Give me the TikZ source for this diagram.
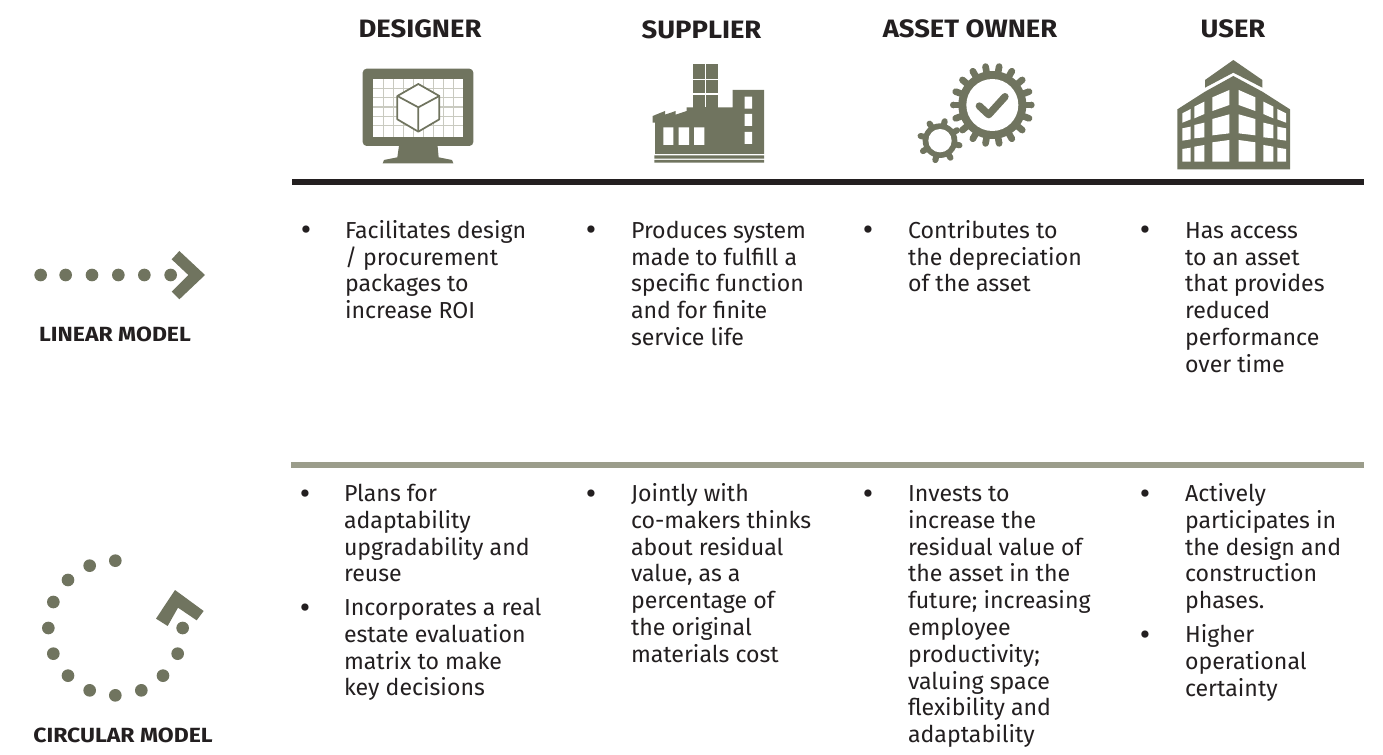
\documentclass[tikz,border=0pt]{standalone}
\usepackage{fontspec}
\setmainfont{Fira Sans}
\definecolor{olive}{HTML}{70745F}
\definecolor{ink}{HTML}{231F20}
\definecolor{rulegray}{HTML}{9B9D8B}
\definecolor{gridgray}{HTML}{C9CAC0}
\newcommand{\ls}[1]{\begin{tabular}[t]{@{}l@{}}#1\end{tabular}}
\tikzset{
  body/.style={inner sep=0pt,outer sep=0pt,anchor=base west,text=ink,
    font=\fontsize{17.35}{20.1}\selectfont},
  bul/.style={inner sep=0pt,outer sep=0pt,anchor=base,text=ink,font=\fontsize{24}{24}\selectfont},
  head/.style={inner sep=0pt,outer sep=0pt,anchor=base,text=ink,font=\fontsize{18.85}{22}\selectfont\bfseries\addfontfeatures{FakeStretch=1.09}},
  side/.style={inner sep=0pt,outer sep=0pt,anchor=base,text=ink,font=\fontsize{15.4}{18}\selectfont\bfseries\addfontfeatures{FakeStretch=1.12}},
  zoomA/.style={shift={(340,50)},scale=1/3},
  zoomB/.style={shift={(890,50)},scale=1/3},
  zoomC/.style={shift={(20,250)},scale=1/3},
  zoomD/.style={shift={(20,540)},scale=1/3},
}
\newcommand{\gearshape}[7]{% cx cy rbody offsetdeg nteeth tipcentre halfwidth
  \foreach \k in {1,...,#5}{
    \fill[olive,rotate around={360/#5*\k+#4:(#1,#2)}]
      (#1-#7,#2) rectangle (#1+#7,#2-#6);
    \fill[olive,rotate around={360/#5*\k+#4:(#1,#2)}]
      (#1,#2-#6) circle[radius=#7];
  }
  \fill[olive] (#1,#2) circle[radius=#3];
}
\begin{document}
\begin{tikzpicture}[x=0.75pt,y=-0.75pt]
\useasboundingbox (0,0) rectangle (1383,755);

% headers
\node[head] (hd) at (420,38) {DESIGNER};
\node[head] (hs) at (701.5,39) {SUPPLIER};
\node[head] (ha) at (970,38) {ASSET OWNER};
\node[head] (hu) at (1233,38) {USER};

% rules
\fill[ink] (292,179.5) rectangle (1364,185);
\fill[rulegray] (291,462) rectangle (1364,468);

% monitor
\begin{scope}[zoomA]
  \fill[olive,rounded corners=3pt] (68,56) rectangle (400,288);
  \fill[olive] (178,280) -- (292,280) -- (296,322) -- (336,330) -- (340,340) -- (128,340) -- (132,330) -- (172,322) -- cycle;
  \fill[white] (100,86) rectangle (368,260);
  \foreach \x in {130,160,190,220,250,280,310,340} \draw[gridgray,line width=1pt] (\x,86) -- (\x,260);
  \foreach \y in {115,143,171,199,227} \draw[gridgray,line width=1pt] (100,\y) -- (368,\y);
  \filldraw[fill=white,draw=olive,line width=1.3pt,line join=round]
    (235,102) -- (298,138) -- (298,208) -- (235,245) -- (172,208) -- (172,138) -- cycle;
  \draw[olive,line width=1.3pt,line join=round] (172,138) -- (235,172) -- (298,138) (235,172) -- (235,245);
  % factory
  \fill[olive] (1060,42) rectangle (1134,180);
  \draw[white,line width=0.8pt] (1097,42) -- (1097,172) (1060,88) -- (1134,88) (1060,132) -- (1134,132);
  \fill[olive] (945,312) -- (945,218) -- (938,218) -- (938,198) -- (975,183) -- (975,194) -- (1007,183) -- (1007,194) -- (1040,183) -- (1040,172)
     -- (1178,172) -- (1178,120) -- (1272,120) -- (1272,312) -- cycle;
  \fill[white] (970,232) rectangle (1000,285) (1016,232) rectangle (1047,285) (1062,232) rectangle (1093,285);
  \fill[white] (1214,140) rectangle (1236,176) (1214,192) rectangle (1236,228) (1214,246) rectangle (1236,282);
  \fill[olive] (943,316) rectangle (1272,326) (943,330) rectangle (1272,338);
\end{scope}

% gears
\begin{scope}[zoomB]
  \gearshape{307}{165}{102}{10}{18}{117}{10}
  \fill[white] (307,165) circle[radius=78];
  \draw[olive,line width=5.5pt,line cap=round,line join=round] (268,168) -- (296,194) -- (345,140);
  \gearshape{150}{272}{52}{31.5}{8}{60}{9}
  \fill[white] (150,272) circle[radius=35];
  % building
  \fill[olive] (1030,30) -- (1117,90) -- (1117,113) -- (1030,68) -- (945,113) -- (945,90) -- cycle;
  \fill[olive] (862,178) -- (945,125) -- (1030,78) -- (1117,125) -- (1200,178) -- (1200,358) -- (862,358) -- cycle;
  \fill[white]
    (877,190) -- (902,177) -- (902,208) -- (877,218) -- cycle
    (913,170) -- (943,155) -- (943,192) -- (913,205) -- cycle
    (967,142) -- (1018,120) -- (1018,165) -- (967,183) -- cycle
    (1046,120) -- (1096,142) -- (1096,183) -- (1046,165) -- cycle
    (1120,155) -- (1150,170) -- (1150,205) -- (1120,192) -- cycle
    (1162,177) -- (1188,190) -- (1188,218) -- (1162,208) -- cycle
    (877,235) -- (902,230) -- (902,268) -- (877,272) -- cycle
    (913,225) -- (943,218) -- (943,262) -- (913,265) -- cycle
    (967,207) -- (1018,193) -- (1018,250) -- (967,256) -- cycle
    (1046,193) -- (1096,207) -- (1096,256) -- (1046,250) -- cycle
    (1120,218) -- (1150,225) -- (1150,265) -- (1120,262) -- cycle
    (1162,230) -- (1188,235) -- (1188,272) -- (1162,268) -- cycle
    (877,297) -- (902,293) -- (902,335) -- (877,335) -- cycle
    (913,290) -- (943,285) -- (943,335) -- (913,335) -- cycle
    (967,277) -- (1018,270) -- (1018,335) -- (967,335) -- cycle
    (1046,270) -- (1096,277) -- (1096,335) -- (1046,335) -- cycle
    (1120,285) -- (1150,290) -- (1150,335) -- (1120,335) -- cycle
    (1162,293) -- (1188,297) -- (1188,335) -- (1162,335) -- cycle;
\end{scope}

% linear model icon
\begin{scope}[zoomC]
  \foreach \x in {62,137,216,295,373,452} \fill[olive] (\x,75) circle[radius=19];
  \fill[olive] (478,3) -- (555,75) -- (478,148) -- (455,125) -- (505,75) -- (455,28) -- cycle;
\end{scope}
\node[side] (lm) at (115,341) {LINEAR MODEL};

% circular model icon
\begin{scope}[zoomD]
  \foreach \x/\y in {286/62,209/77,144/120,100/186,85/264,100/341,144/407,209/451,286/466,364/451,429/407,473/341,488/264}
    \fill[olive] (\x,\y) circle[radius=19];
  \fill[olive] (465,150) -- (551,213) -- (530,241) -- (474,203) -- (443,258) -- (408,236) -- cycle;
\end{scope}
\node[side] (cm) at (123,742) {CIRCULAR MODEL};

% linear row
\node[bul] (b1) at (306,241) {•};
\node[body] (t1) at (345,238.3) {\ls{Facilitates design\\/ procurement\\packages to\\increase ROI}};
\node[bul] (b2) at (591,241) {•};
\node[body] (t2) at (631,238.3) {\ls{Produces system\\made to fulfill a\\specific function\\and for finite\\service life}};
\node[bul] (b3) at (868,241) {•};
\node[body] (t3) at (908,238.3) {\ls{Contributes to\\the depreciation\\of the asset}};
\node[bul] (b4) at (1145,241) {•};
\node[body] (t4) at (1185,238.3) {\ls{Has access\\to an asset\\that provides\\reduced\\performance\\over time}};

% circular row
\node[bul] (c1) at (305,504) {•};
\node[body] (u1) at (344,501.5) {\ls{Plans for\\adaptability\\upgradability and\\reuse}};
\node[bul] (c1b) at (305,618) {•};
\node[body] (u1b) at (344,615.5) {\ls{Incorporates a real\\estate evaluation\\matrix to make\\key decisions}};
\node[bul] (c2) at (591,504) {•};
\node[body] (u2) at (631,501.5) {\ls{Jointly with\\co-makers thinks\\about residual\\value, as a\\percentage of\\the original\\materials cost}};
\node[bul] (c3) at (868,504) {•};
\node[body] (u3) at (908,501.5) {\ls{Invests to\\increase the\\residual value of\\the asset in the\\future; increasing\\employee\\productivity;\\valuing space\\flexibility and\\adaptability}};
\node[bul] (c4) at (1145,504) {•};
\node[body] (u4) at (1185,501.5) {\ls{Actively\\participates in\\the design and\\construction\\phases.}};
\node[bul] (c4b) at (1145,645) {•};
\node[body] (u4b) at (1185,642.5) {\ls{Higher\\operational\\certainty}};
\end{tikzpicture}
\end{document}
